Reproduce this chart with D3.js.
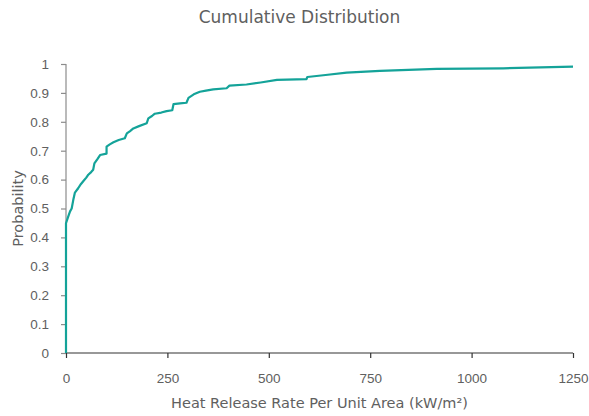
<!DOCTYPE html>
<html>
<head>
<meta charset="utf-8">
<script src="https://cdn.jsdelivr.net/npm/d3@7"></script>
<style>
  html, body { margin: 0; padding: 0; background: #fff; }
  svg { display: block; font-family: "DejaVu Sans", sans-serif; }
</style>
</head>
<body>
<svg id="chart" width="589" height="416"></svg>
<script>
// Empirical CDF of heat release rate per unit area (kW/m²)
const hrr = [0, 0, 5, 10, 14, 18, 22, 30, 37, 43, 50, 55, 62, 67, 70, 77, 84, 100, 100, 108, 117, 130, 145, 150, 158, 166, 180, 199, 203, 212, 219, 235, 248, 262, 265, 281, 297, 302, 315, 330, 345, 363, 396, 403, 445, 480, 520, 593, 595, 640, 692, 774, 914, 1078, 1250];
const prob = [0, 0.449, 0.47, 0.49, 0.50, 0.53, 0.555, 0.57, 0.585, 0.595, 0.607, 0.617, 0.626, 0.634, 0.656, 0.67, 0.685, 0.69, 0.714, 0.722, 0.729, 0.737, 0.743, 0.76, 0.768, 0.777, 0.785, 0.795, 0.812, 0.82, 0.828, 0.832, 0.837, 0.84, 0.861, 0.864, 0.866, 0.883, 0.895, 0.904, 0.908, 0.912, 0.916, 0.925, 0.929, 0.936, 0.945, 0.948, 0.955, 0.962, 0.970, 0.976, 0.983, 0.985, 0.991];
const xTicks = [0, 250, 500, 750, 1000, 1250];
const yTicks = [0, 0.1, 0.2, 0.3, 0.4, 0.5, 0.6, 0.7, 0.8, 0.9, 1];

const svg = d3.select("#chart");
const margin = { left: 66, right: 16, top: 64, bottom: 63 };
const W = 589, H = 416;

const x = d3.scaleLinear().domain([0, 1250]).range([margin.left, W - margin.right]);
const y = d3.scaleLinear().domain([0, 1]).range([H - margin.bottom, margin.top]);

const textColor = "#606060";

// Title
svg.append("text")
  .attr("x", 299.5).attr("y", 22.5)
  .attr("text-anchor", "middle")
  .attr("font-size", 17)
  .attr("fill", textColor)
  .text("Cumulative Distribution");

// Y axis
const yAxis = svg.append("g")
  .attr("transform", `translate(${margin.left},0)`)
  .call(d3.axisLeft(y).tickValues(yTicks).tickFormat(d3.format("")).tickSize(5).tickPadding(12));
yAxis.select(".domain").attr("stroke", "#8c8c8c").attr("stroke-width", 1.2).attr("d", `M0,${y(1)}V${y(0)}`);
yAxis.selectAll(".tick line").attr("stroke", "#8c8c8c").attr("stroke-width", 1.2);
yAxis.selectAll(".tick text").attr("fill", textColor).attr("font-size", 13.5).attr("font-family", "inherit");

// X axis
const xAxis = svg.append("g")
  .attr("transform", `translate(0,${y(0)})`)
  .call(d3.axisBottom(x).tickValues(xTicks).tickFormat(d3.format("d")).tickSize(5).tickPadding(15));
xAxis.select(".domain").attr("stroke", "#333").attr("stroke-width", 1.2).attr("d", `M${x(0)},0H${x(1250)}`);
xAxis.selectAll(".tick line").attr("stroke", "#333").attr("stroke-width", 1.2);
xAxis.selectAll(".tick text").attr("fill", textColor).attr("font-size", 13.5).attr("font-family", "inherit");

// Axis titles
svg.append("text")
  .attr("x", (x(0) + x(1250)) / 2).attr("y", 408)
  .attr("text-anchor", "middle")
  .attr("font-size", 14.5)
  .attr("fill", textColor)
  .text("Heat Release Rate Per Unit Area (kW/m²)");

svg.append("text")
  .attr("transform", `translate(23,${(y(0) + y(1)) / 2}) rotate(-90)`)
  .attr("text-anchor", "middle")
  .attr("font-size", 14.5)
  .attr("fill", textColor)
  .text("Probability");

// CDF line
const pts = hrr.map((v, i) => [v, prob[i]]);
svg.append("path")
  .datum(pts)
  .attr("fill", "none")
  .attr("stroke", "#14a399")
  .attr("stroke-width", 2.2)
  .attr("stroke-linejoin", "round")
  .attr("d", d3.line().x(d => x(d[0])).y(d => y(d[1])));
</script>
</body>
</html>
